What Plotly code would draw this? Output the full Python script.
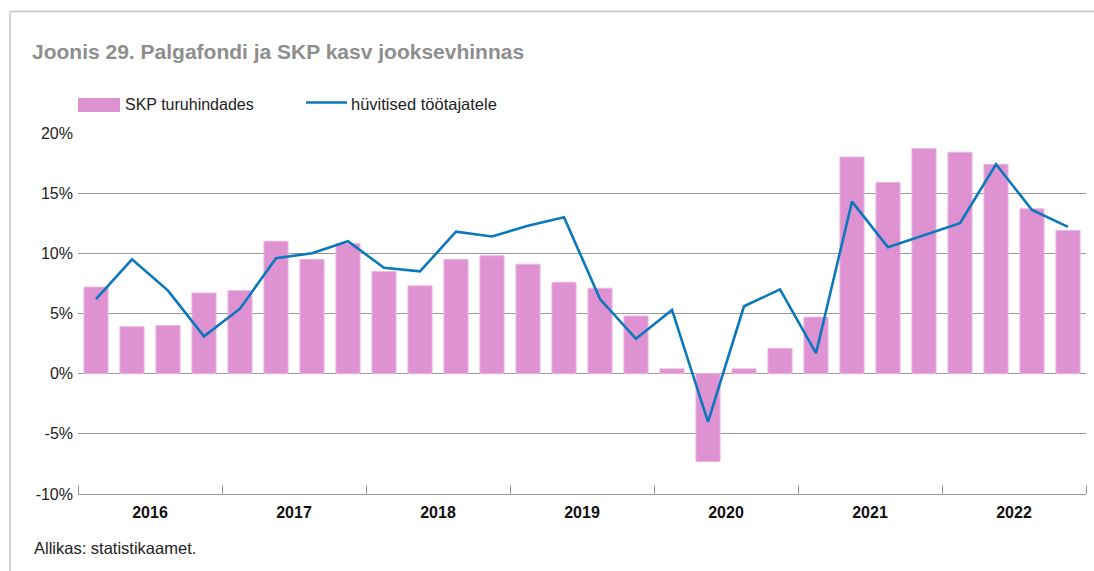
import plotly.graph_objects as go

# Quarterly growth, 2016 Q1 .. 2022 Q4 (% y/y, current prices)
years = ["2016", "2017", "2018", "2019", "2020", "2021", "2022"]
quarters_per_year = 4
gdp_growth = [7.2, 3.9, 4.0, 6.7,
              6.9, 11.0, 9.5, 10.8,
              8.5, 7.3, 9.5, 9.8,
              9.1, 7.6, 7.1, 4.8,
              0.4, -7.3, 0.4, 2.1,
              4.7, 18.0, 15.9, 18.7,
              18.4, 17.4, 13.7, 11.9]
compensation_growth = [6.2, 9.5, 6.9, 3.1,
                       5.4, 9.6, 10.0, 11.0,
                       8.8, 8.5, 11.8, 11.4,
                       12.3, 13.0, 6.2, 2.9,
                       5.3, -4.0, 5.6, 7.0,
                       1.7, 14.3, 10.5, 11.5,
                       12.5, 17.4, 13.6, 12.2]
y_tick_values = [20, 15, 10, 5, 0, -5, -10]
y_tick_labels = ["20%", "15%", "10%", "5%", "0%", "-5%", "-10%"]

n = len(gdp_growth)
x_pos = list(range(n))
year_centers = [i * quarters_per_year + (quarters_per_year - 1) / 2 for i in range(len(years))]
year_bounds = [i * quarters_per_year - 0.5 for i in range(len(years) + 1)]

W, H = 1094, 571
L, R, T, B = 78, 8, 133, 77
PW, PH = W - L - R, H - T - B

PINK = "#DF92D2"
BLUE = "#0A78BA"
GRID = "#999999"
FONT = "Liberation Sans, Arial, sans-serif"


def px_x(x):
    return (x - L) / PW


def px_y(y):
    return 1 - (y - T) / PH


fig = go.Figure()
fig.add_trace(go.Bar(
    x=x_pos, y=gdp_growth, name="SKP turuhindades",
    marker=dict(color=PINK, line=dict(color="#EBB6E2", width=1)),
))
fig.add_trace(go.Scatter(
    x=x_pos, y=compensation_growth, name="hüvitised töötajatele",
    mode="lines", line=dict(color=BLUE, width=2.6),
))

fig.update_layout(
    width=W, height=H,
    margin=dict(l=L, r=R, t=T, b=B),
    paper_bgcolor="white", plot_bgcolor="white",
    font=dict(family=FONT, size=16, color="#222"),
    bargap=0.33,
    showlegend=False,
    title=dict(
        text="Joonis 29. Palgafondi ja SKP kasv jooksevhinnas",
        x=32 / W, xanchor="left", xref="container",
        y=1 - 52 / H, yanchor="middle", yref="container",
        font=dict(family=FONT, size=21, color="#8e8e8e", weight="bold"),
    ),
)

fig.update_xaxes(
    range=[-0.5, n - 0.5],
    tickmode="array", tickvals=year_centers, ticktext=years,
    tickfont=dict(family=FONT, size=16, color="#111", weight="bold"),
    ticks="", ticklabelstandoff=4, showgrid=False, zeroline=False,
    showline=True, linecolor=GRID, linewidth=1.2,
    minor=dict(tickmode="array", tickvals=year_bounds, ticks="inside",
               ticklen=9, tickcolor=GRID, tickwidth=1, showgrid=False),
    fixedrange=True,
)
fig.update_yaxes(
    range=[-10, 20],
    tickmode="array", tickvals=y_tick_values, ticktext=y_tick_labels,
    tickfont=dict(family=FONT, size=16, color="#222"),
    ticks="", ticklabelstandoff=4,
    showgrid=True, gridcolor=GRID, gridwidth=1.2,
    zeroline=True, zerolinecolor=GRID, zerolinewidth=1.2,
    showline=False,
    fixedrange=True,
)

# Legend drawn manually in one row above the plot
fig.add_shape(type="rect", xref="paper", yref="paper",
              x0=px_x(78), x1=px_x(120), y0=px_y(112), y1=px_y(98),
              fillcolor=PINK, line=dict(width=0))
fig.add_annotation(text="SKP turuhindades", xref="paper", yref="paper",
                   x=px_x(123), y=px_y(104), xanchor="left", yanchor="middle",
                   showarrow=False, font=dict(family=FONT, size=16, color="#222"))
fig.add_shape(type="line", xref="paper", yref="paper",
              x0=px_x(306), x1=px_x(347), y0=px_y(102.5), y1=px_y(102.5),
              line=dict(color=BLUE, width=2.6))
fig.add_annotation(text="hüvitised töötajatele", xref="paper", yref="paper",
                   x=px_x(349), y=px_y(104), xanchor="left", yanchor="middle",
                   showarrow=False, font=dict(family=FONT, size=16.5, color="#222"))

# Source note
fig.add_annotation(text="Allikas: statistikaamet.", xref="paper", yref="paper",
                   x=px_x(32), y=px_y(548), xanchor="left", yanchor="middle",
                   showarrow=False, font=dict(family=FONT, size=16.5, color="#222"))

# Outer frame (top and left edges)
fig.add_shape(type="line", xref="paper", yref="paper",
              x0=px_x(10), x1=px_x(W), y0=px_y(11.5), y1=px_y(11.5),
              line=dict(color="#c4c4c4", width=1.5))
fig.add_shape(type="line", xref="paper", yref="paper",
              x0=px_x(10), x1=px_x(10), y0=px_y(11.5), y1=px_y(H),
              line=dict(color="#c4c4c4", width=1.5))

fig.write_html("out.html")
